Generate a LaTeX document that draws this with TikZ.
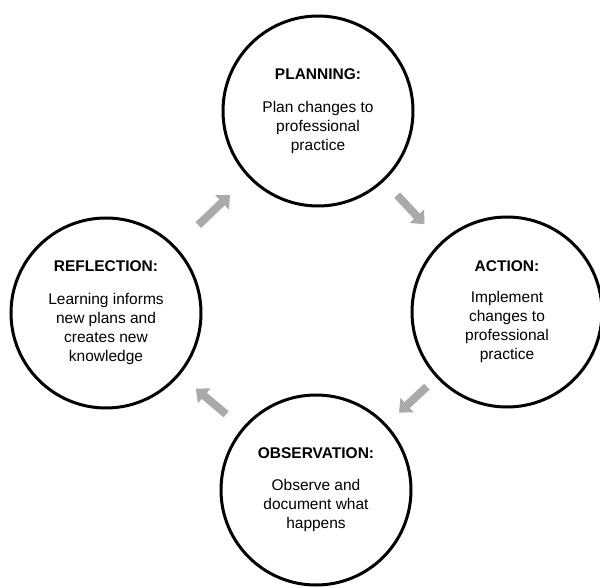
\documentclass[tikz,border=0pt]{standalone}
\usepackage{fontspec}
\setmainfont{Liberation Sans}
\usetikzlibrary{arrows.meta}
\definecolor{arrowgray}{RGB}{170,170,170}
\begin{document}
\begin{tikzpicture}[x=1pt, y=-1pt,
    every node/.style={font=\fontsize{15.5}{19}\selectfont},
    stage/.style={draw, circle, line width=3pt, minimum size=190pt, inner sep=0pt, align=center},
    flow/.style 2 args={line width=8pt, arrowgray, -{Triangle[width=19pt,length=11pt]}, shorten <=#1, shorten >=#2}]
    \useasboundingbox (0,0) rectangle (600,588);

    % Stages of the cycle
    \node[stage] (plan) at (318,111) {\textbf{PLANNING:}\\[14pt]Plan changes to\\professional\\practice};
    \node[stage] (act) at (507,312) {\textbf{ACTION:}\\[12pt]Implement\\changes to\\professional\\practice};
    \node[stage] (obs) at (316,490) {\textbf{OBSERVATION:}\\[13pt]Observe and\\document what\\happens};
    \node[stage] (refl) at (106,313) {\textbf{REFLECTION:}\\[14pt]Learning informs\\new plans and\\creates new\\knowledge};

    % Arrows between stages
    \draw[flow={31}{25}] (refl) -- (plan);
    \draw[flow={19}{24}] (plan) -- (act);
    \draw[flow={13}{17}] (act) -- (obs);
    \draw[flow={21}{21}] (obs) -- (refl);
\end{tikzpicture}
\end{document}
